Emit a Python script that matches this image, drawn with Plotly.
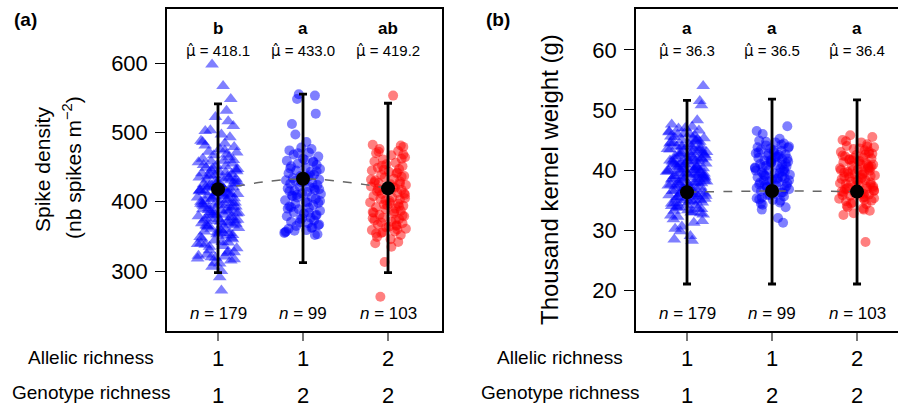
import plotly.graph_objects as go

# ---------------- data ----------------
CATS = [1, 2, 3]
ALLELIC = ["1", "1", "2"]
GENOTYPE = ["1", "2", "2"]
N_LABELS = [179, 99, 103]

LETTERS_A = ["b", "a", "ab"]
LETTERS_B = ["a", "a", "a"]
MEAN_A = [418.1, 433.0, 419.2]
MEAN_B = [36.3, 36.5, 36.4]
LOW_A = [297.6, 312.0, 297.6]
HIGH_A = [541.0, 555.0, 542.0]
LOW_B = [21.0, 21.0, 21.0]
HIGH_B = [51.6, 51.8, 51.7]

# Panel (a) - spike density observations
A1 = [598, 567, 548, 531, 522, 516, 509, 503, 497, 493,
      488, 484, 481, 479, 476, 472, 471, 467, 464, 462,
      459, 457, 455, 452, 451, 449, 446, 445, 443, 441,
      440, 438, 436, 435, 433, 432, 430, 428, 427, 425,
      424, 423, 421, 420, 419, 417, 416, 414, 413, 412,
      411, 409, 408, 406, 405, 404, 402, 401, 399, 398,
      397, 395, 394, 393, 391, 390, 389, 387, 386, 385,
      383, 382, 381, 379, 378, 376, 375, 373, 372, 370,
      369, 367, 366, 364, 362, 361, 359, 357, 355, 353,
      351, 349, 346, 344, 341, 338, 336, 333, 330, 327,
      324, 321, 318, 315, 311, 306, 300, 291, 272, 486,
      468, 453, 447, 439, 434, 429, 426, 422, 418, 415,
      410, 407, 403, 400, 396, 392, 388, 384, 380, 377,
      374, 371, 368, 365, 360, 356, 352, 347, 342, 335,
      328, 322, 317, 312, 502, 474, 458, 444, 437, 431,
      425, 420, 416, 411, 405, 399, 394, 388, 381, 374,
      366, 358, 348, 339, 326, 319, 460, 448, 433, 421,
      409, 396, 384, 370, 355, 340, 320, 442, 413]
JA1 = [-7, 6, 15, 10, -3, 12, 18, -9, 4, 14,
       -20, 8, -15, 19, 2, -11, 22, -5, 13, -18,
       7, -23, 17, -2, 9, -14, 21, -8, 1, -19,
       16, -4, 11, -22, 5, -13, 20, -1, 24, -17,
       3, -10, 18, -6, 14, -21, 8, -16, 12, -3,
       23, -12, 6, -24, 19, -7, 10, -15, 2, 17,
       -20, 9, -5, 21, -11, 15, -18, 4, 13, -9,
       22, -2, 7, -23, 16, -14, 1, 20, -6, 11,
       -19, 5, 18, -12, 24, -8, 3, -16, 14, -1,
       9, -21, 17, -4, 12, -15, 6, 22, -10, 19,
       -13, 8, -24, 15, 2, -7, 4, 2, 4, -18,
       10, -17, 23, -9, 13, -3, 20, -14, 7, -22,
       16, -5, 11, -20, 1, 18, -11, 24, -6, 14,
       -16, 3, 21, -13, 9, -1, 17, -19, 5, -10,
       12, -23, 19, -4, -15, 8, -8, 22, -12, 15,
       -2, 6, -21, 13, -7, 20, -17, 10, -9, 23,
       -14, 4, 16, -24, 11, -3, 18, -6, 21, -11,
       7, -18, -5, 14, 2, -20, -8, 9, 0]
A2 = [555, 553, 548, 527, 512, 497, 486, 478, 476, 474,
      471, 468, 465, 462, 459, 457, 455, 453, 451, 449,
      447, 445, 443, 441, 439, 437, 436, 434, 432, 431,
      429, 427, 426, 424, 422, 421, 419, 417, 416, 414,
      412, 411, 409, 407, 406, 404, 402, 400, 398, 397,
      395, 393, 391, 389, 387, 385, 383, 381, 379, 377,
      375, 373, 371, 369, 367, 365, 363, 361, 359, 357,
      355, 353, 352, 470, 458, 448, 438, 428, 418, 408,
      399, 390, 380, 370, 362, 356, 460, 444, 430, 420,
      410, 401, 392, 384, 376, 366, 358, 435, 415]
JA2 = [-5, 14, -7, 15, -13, -9, 4, -2, 10, -16,
       7, -11, 18, 0, -19, 12, -6, 16, -14, 3,
       20, -8, 9, -17, 13, -3, 6, -12, 19, -20,
       2, 11, -15, 17, -4, 8, -18, 14, -10, 5,
       -1, 21, -13, 10, -7, 15, -21, 3, 18, -9,
       12, -16, 7, -5, 20, -11, 1, 16, -19, 9,
       -3, 13, -14, 6, 19, -8, 11, -17, 4, -20,
       -22, 17, 14, -6, 12, -15, 8, -2, 19, -12,
       5, -18, 15, -4, 10, -21, 2, 16, -9, 13,
       -7, 20, -14, 7, -1, 18, -10, 3, -16]
A3 = [553, 482, 481, 479, 476, 473, 470, 467, 464, 461,
      458, 456, 454, 451, 449, 447, 445, 443, 441, 439,
      437, 435, 433, 431, 429, 427, 425, 424, 422, 420,
      418, 417, 415, 413, 411, 410, 408, 406, 404, 403,
      401, 399, 397, 396, 394, 392, 390, 389, 387, 385,
      383, 381, 379, 377, 375, 373, 371, 369, 367, 365,
      363, 361, 359, 357, 355, 352, 349, 346, 342, 340,
      335, 313, 263, 472, 462, 452, 442, 432, 421, 412,
      402, 393, 384, 374, 364, 354, 468, 446, 426, 416,
      405, 395, 386, 376, 366, 356, 436, 419, 398, 380,
      370, 360, 428]
JA3 = [6, -18, 15, 18, -10, 12, -14, 4, 20, -6,
       -16, 9, -2, 17, -12, 13, -19, 1, 10, -8,
       19, -4, 7, -15, 14, -11, 3, 21, -20, 8,
       -1, 16, -13, 11, -7, 20, -17, 5, -9, 14,
       2, -21, 12, -5, 18, -14, 9, -3, 15, -18,
       7, -10, 19, -6, 13, -16, 4, 17, -12, 10,
       -2, 21, -19, 8, -8, 15, -13, 3, 12, -15,
       4, -4, -9, -11, 16, -7, 11, -20, 6, 19,
       -3, 13, -17, 9, 1, -14, 18, -5, 14, -10,
       20, -1, 7, -18, 10, -6, 16, -12, 2, 17,
       -8, 11, -16]

# Panel (b) - thousand kernel weight observations
B1 = [54.0, 51.5, 50.8, 48.3, 47.6, 47.2, 46.9, 46.6, 46.3, 46.0,
      45.8, 45.5, 45.3, 45.0, 44.8, 44.6, 44.3, 44.1, 43.9, 43.7,
      43.5, 43.3, 43.1, 42.9, 42.7, 42.5, 42.3, 42.2, 42.0, 41.8,
      41.6, 41.5, 41.3, 41.1, 41.0, 40.8, 40.6, 40.5, 40.3, 40.1,
      40.0, 39.8, 39.6, 39.5, 39.3, 39.1, 39.0, 38.8, 38.6, 38.5,
      38.3, 38.1, 38.0, 37.8, 37.6, 37.4, 37.2, 37.0, 36.8, 36.6,
      36.4, 36.2, 36.0, 35.8, 35.6, 35.4, 35.2, 35.0, 34.7, 34.4,
      34.1, 33.8, 33.5, 33.2, 32.9, 32.6, 32.2, 31.8, 31.2, 30.6,
      29.8, 29.0, 28.4, 28.2, 46.1, 45.1, 44.4, 43.6, 42.8, 42.1,
      41.4, 40.7, 40.2, 39.7, 39.2, 38.7, 38.2, 37.7, 37.1, 36.5,
      35.9, 35.3, 34.6, 33.9, 33.0, 45.6, 44.7, 43.8, 43.0, 42.4,
      41.7, 41.2, 40.4, 39.9, 39.4, 38.9, 38.4, 37.9, 37.3, 36.7,
      36.1, 35.5, 34.8, 34.0, 32.8, 47.0, 44.9, 43.4, 42.6, 41.9,
      40.9, 40.0, 39.0, 38.0, 36.9, 35.7, 34.5, 33.3, 31.5, 46.4,
      45.2, 44.0, 43.2, 41.4, 40.5, 39.6, 38.6, 37.5, 36.3, 35.1,
      33.6, 30.2, 44.5, 42.0, 40.2, 38.8, 37.0, 35.0, 32.4, 43.0,
      41.0, 39.2, 37.4, 34.9, 42.7, 39.9, 36.6, 33.7, 41.6, 38.4,
      35.6, 40.6, 37.8, 45.9, 43.9, 41.8, 39.4, 36.0, 34.2]
JB1 = [19, 15, 17, 12, -18, 6, -10, 14, -21, 3,
       9, -15, 20, -6, 11, -19, 2, 16, -12, 7,
       -23, 13, -4, 18, -9, 21, -14, 5, -1, 17,
       -20, 10, -7, 22, -16, 4, 12, -11, 19, -3,
       8, -22, 15, -8, 1, 20, -13, 6, -17, 14,
       -5, 23, -10, 9, -19, 3, 16, -2, 11, -14,
       18, -7, 7, -21, 13, -12, 21, -4, 2, -18,
       10, -9, 17, -15, 5, 19, -11, -16, 8, -6,
       -8, 4, -15, 6, -3, 12, -20, 16, -7, 22,
       1, -13, 9, -24, 14, -5, 20, -10, 3, -17,
       11, -1, 18, -12, 7, -19, 15, -6, 23, -9,
       2, -16, 12, -22, 8, 19, -3, 13, -14, 5,
       21, -11, 6, -18, 16, -2, 10, -20, 4, 17,
       -8, 14, -15, 9, -4, 22, -12, 1, 18, -21,
       7, -6, 15, -17, 11, -1, 20, -9, 3, -13,
       13, -14, -16, 8, -10, 21, -5, 16, -19, 6,
       -3, 12, -22, 10, 19, -7, 2, -12, 14, -18,
       9, -4, 17, -11, 5, -15, 20, -8, 0]
B2 = [47.3, 46.5, 46.0, 45.2, 44.9, 44.6, 44.4, 44.1, 43.9, 43.6,
      43.4, 43.2, 43.0, 42.8, 42.6, 42.4, 42.2, 42.0, 41.8, 41.6,
      41.4, 41.2, 41.0, 40.8, 40.6, 40.4, 40.2, 40.0, 39.8, 39.6,
      39.4, 39.2, 39.0, 38.8, 38.6, 38.4, 38.2, 38.0, 37.8, 37.6,
      37.4, 37.1, 36.8, 36.5, 36.2, 35.9, 35.6, 35.3, 35.0, 34.6,
      34.2, 33.8, 33.4, 32.0, 31.2, 44.7, 43.7, 42.9, 42.1, 41.5,
      40.9, 40.3, 39.7, 39.1, 38.5, 37.9, 37.3, 36.6, 35.8, 34.9,
      43.8, 42.5, 41.3, 40.1, 39.3, 38.3, 37.2, 36.0, 34.4, 44.2,
      42.7, 41.1, 39.9, 38.7, 37.5, 36.3, 35.1, 43.3, 41.9, 40.5,
      39.5, 38.1, 36.9, 35.4, 42.3, 40.7, 38.9, 37.0, 41.7]
JB2 = [18, -18, -11, 9, -15, 4, 14, -7, 20, -2,
       -13, 11, 2, -19, 16, -5, 7, -16, 12, -9,
       19, -1, -14, 6, 17, -20, 10, -4, 13, -12,
       3, 21, -8, -17, 15, 0, -10, 8, 18, -15,
       5, -6, 20, -13, 11, -3, 14, -18, 1, 9,
       -11, 16, -12, 7, 13, -7, 19, -16, 4, -2,
       12, -20, 15, -9, 6, -14, 17, 1, -5, 10,
       -17, 8, -1, 14, -10, 20, -6, 3, -13, 11,
       -4, 16, -19, 7, -8, 13, -15, 2, 18, -11,
       9, -3, 15, -12, 5, -7, 12, -18, -1]
B3 = [45.8, 45.5, 45.0, 44.6, 44.3, 44.0, 43.8, 43.5, 43.3, 43.0,
      42.8, 42.5, 42.3, 42.1, 41.9, 41.7, 41.5, 41.3, 41.1, 40.9,
      40.7, 40.5, 40.3, 40.1, 39.9, 39.7, 39.5, 39.3, 39.1, 38.9,
      38.7, 38.5, 38.3, 38.1, 37.9, 37.7, 37.5, 37.3, 37.1, 36.9,
      36.7, 36.5, 36.3, 36.1, 35.9, 35.7, 35.5, 35.2, 34.9, 34.6,
      34.3, 34.0, 33.6, 33.2, 32.8, 32.5, 28.0, 44.8, 43.6, 42.7,
      41.8, 40.8, 40.0, 39.2, 38.4, 37.6, 36.8, 36.0, 35.3, 34.4,
      43.9, 42.4, 41.4, 40.4, 39.4, 38.6, 37.8, 37.0, 36.2, 35.0,
      33.8, 43.1, 41.6, 40.6, 39.6, 38.2, 37.2, 36.4, 35.4, 42.0,
      40.2, 38.8, 36.6, 34.8, 41.0, 39.0, 37.4, 35.8, 42.6, 39.8,
      36.9, 33.4, 40.0]
JB3 = [-8, 18, -17, 5, 12, -12, 20, -4, 9, -19,
       14, -1, -14, 7, 17, -9, 3, -16, 11, 19,
       -6, 13, -20, 1, 15, -11, 8, -3, 21, -15,
       6, -18, 10, -7, 16, -13, 2, 19, -10, 12,
       -2, 20, -16, 4, 14, -8, 9, -21, 17, -5,
       11, -12, 7, 15, -4, -16, 10, -13, 3, 18,
       -9, 13, -19, 6, -1, 16, -14, 8, 20, -7,
       12, -17, 2, 15, -10, 5, -20, 19, -3, 9,
       -11, 14, -6, 17, -15, 1, 11, -18, 7, -4,
       13, -9, 20, -13, 4, 16, -2, -17, 10, 6,
       -12, 8, -5]

# ---------------- figure ----------------
W, H = 898, 407
FONT = "Liberation Sans, Arial, sans-serif"
BLUE = "rgba(0,0,255,0.5)"
RED = "rgba(255,0,0,0.5)"


def px(p):  # horizontal pixel -> paper
    return p / W


def py(p):  # vertical pixel -> paper
    return 1 - p / H


fig = go.Figure()


def add_panel(xa, ya, groups, means, lows, highs):
    for cat, (vals, jit, sym, col, sz) in zip(CATS, groups):
        fig.add_trace(go.Scatter(
            x=[cat + j / 100 for j in jit], y=vals, mode="markers",
            marker=dict(symbol=sym, color=col, size=sz, line=dict(width=0)),
            xaxis=xa, yaxis=ya, showlegend=False, hoverinfo="skip"))
    fig.add_trace(go.Scatter(
        x=CATS, y=means, mode="lines",
        line=dict(color="#666666", width=1.5, dash="dash", shape="spline"),
        xaxis=xa, yaxis=ya, showlegend=False, hoverinfo="skip"))
    fig.add_trace(go.Scatter(
        x=CATS, y=means, mode="markers",
        marker=dict(color="black", size=14, symbol="circle"),
        error_y=dict(type="data", symmetric=False,
                     array=[h - m for h, m in zip(highs, means)],
                     arrayminus=[m - l for m, l in zip(means, lows)],
                     color="black", thickness=2.8, width=4),
        xaxis=xa, yaxis=ya, showlegend=False, hoverinfo="skip"))


add_panel("x", "y",
          [(A1, JA1, "triangle-up", BLUE, 12),
           (A2, JA2, "circle", BLUE, 10),
           (A3, JA3, "circle", RED, 10)],
          MEAN_A, LOW_A, HIGH_A)
add_panel("x2", "y2",
          [(B1, JB1, "triangle-up", BLUE, 12),
           (B2, JB2, "circle", BLUE, 10),
           (B3, JB3, "circle", RED, 10)],
          MEAN_B, LOW_B, HIGH_B)

xcommon = dict(tickvals=CATS, showticklabels=False, ticks="outside",
               ticklen=8, tickwidth=1.5, tickcolor="#777777",
               showgrid=False, zeroline=False, showline=True,
               linecolor="black", linewidth=1.5, mirror=True, fixedrange=True)
ycommon = dict(ticks="outside", ticklen=10, tickwidth=1, tickcolor="black",
               showgrid=False, zeroline=False, showline=True,
               linecolor="black", linewidth=1.5,
               tickfont=dict(family=FONT, size=22, color="black"),
               ticklabelstandoff=3)

fig.update_layout(
    width=W, height=H, margin=dict(l=0, r=0, t=0, b=0),
    paper_bgcolor="white", plot_bgcolor="white",
    font=dict(family=FONT, color="black"),
    xaxis=dict(domain=[px(167), px(442)], range=[0.4, 3.635], anchor="y",
               **xcommon),
    xaxis2=dict(domain=[px(636), 1.0], range=[0.4, 3.482], anchor="y2",
                **xcommon),
    yaxis=dict(domain=[py(331), py(9)], range=[213.5, 677.9], anchor="x",
               tickvals=[300, 400, 500, 600], mirror=True, **ycommon),
    yaxis2=dict(domain=[py(331), py(9)], range=[13.17, 66.83], anchor="x2",
                tickvals=[20, 30, 40, 50, 60], mirror=False, **ycommon),
)

ann = []


def add_text(text, x, y, size, xref="paper", bold=False, xanchor="center",
             angle=0):
    ann.append(dict(text=("<b>%s</b>" % text) if bold else text,
                    x=x, y=y, xref=xref, yref="paper", showarrow=False,
                    xanchor=xanchor, yanchor="middle", textangle=angle,
                    font=dict(family=FONT, size=size, color="black")))


MU_HAT = "<span style=\"font-family:'DejaVu Sans'\">\u03bc\u0302</span>"

for xa, letters, means in (("x", LETTERS_A, MEAN_A), ("x2", LETTERS_B, MEAN_B)):
    for i, cat in enumerate(CATS):
        add_text(letters[i], cat, py(29), 17, xref=xa, bold=True)
        add_text(MU_HAT + " = %.1f" % means[i], cat, py(51), 15, xref=xa)
        add_text("<i>n</i> = %d" % N_LABELS[i], cat, py(313), 17, xref=xa)
        add_text(ALLELIC[i], cat, py(358), 22, xref=xa)
        add_text(GENOTYPE[i], cat, py(395), 22, xref=xa)

for cx in (91, 560):
    add_text("Allelic richness", px(cx), py(357), 19)
    add_text("Genotype richness", px(cx), py(392), 19)

add_text("(a)", px(12), py(20), 19, bold=True, xanchor="left")
add_text("(b)", px(484), py(19), 19, bold=True, xanchor="left")

add_text("Spike density", px(42), py(170), 21, angle=-90)
add_text("(nb spikes m<sup>\u22122</sup>)", px(72), py(168), 21, angle=-90)
add_text("Thousand kernel weight (g)", px(549), py(180), 24, angle=-90)

fig.update_layout(annotations=ann)
fig.write_html("out.html", config={"displayModeBar": False},
               post_script="document.body.style.margin='0px';"
                           "document.body.style.overflow='hidden';")
